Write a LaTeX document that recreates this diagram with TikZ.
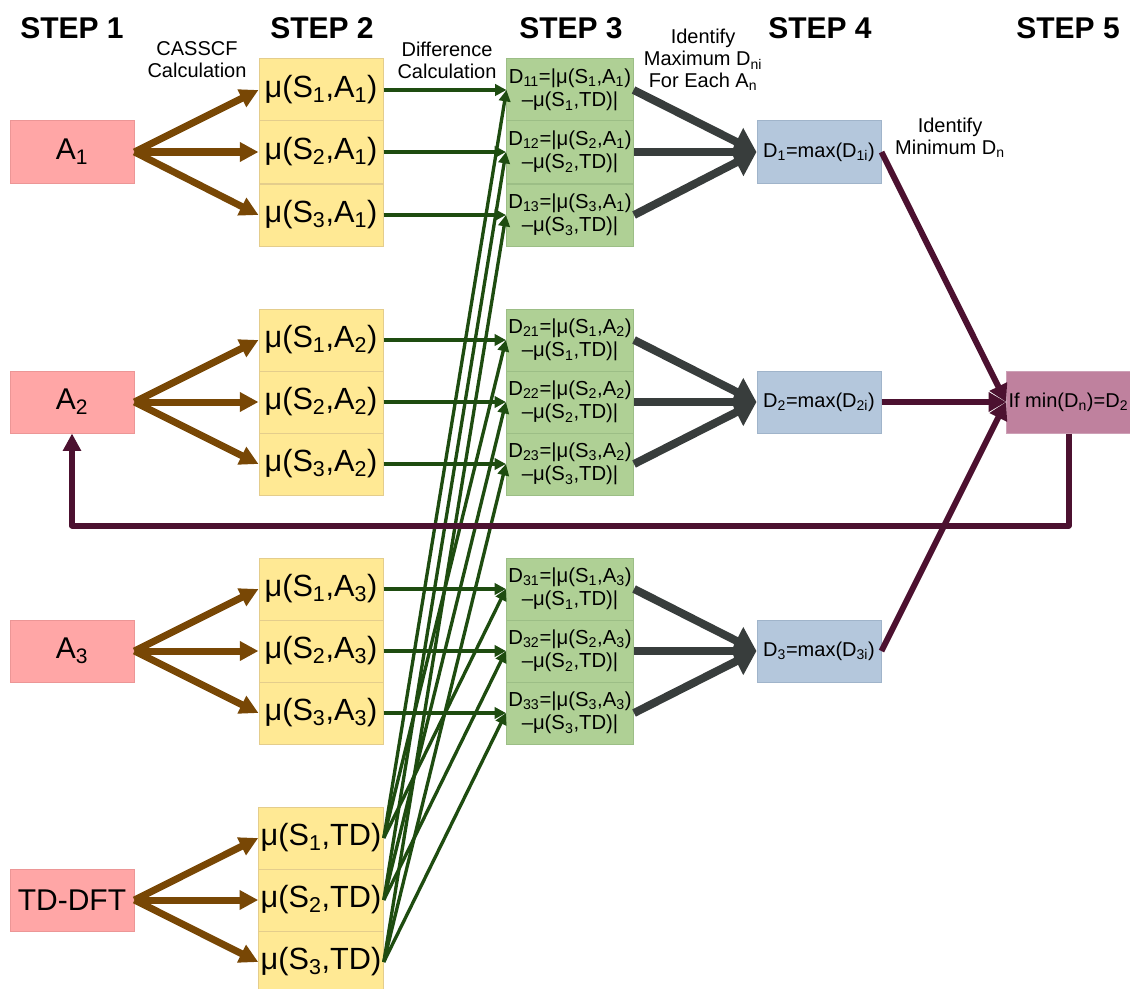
\documentclass[tikz,border=0pt]{standalone}
\usepackage{fontspec}
\setmainfont{Liberation Sans}
\usetikzlibrary{arrows.meta}
\definecolor{redfill}{RGB}{255,166,166}
\definecolor{redline}{RGB}{236,150,150}
\definecolor{yelfill}{RGB}{255,233,148}
\definecolor{yelline}{RGB}{228,205,140}
\definecolor{grnfill}{RGB}{175,208,149}
\definecolor{grnline}{RGB}{156,190,134}
\definecolor{blufill}{RGB}{180,199,220}
\definecolor{bluline}{RGB}{160,180,202}
\definecolor{magfill}{RGB}{191,129,158}
\definecolor{magline}{RGB}{205,160,182}
\definecolor{brownarr}{RGB}{120,71,5}
\definecolor{greenarr}{RGB}{30,76,16}
\definecolor{grayarr}{RGB}{56,61,60}
\definecolor{maroonarr}{RGB}{76,17,48}
\begin{document}
\begin{tikzpicture}[x=0.75pt, y=-0.75pt,
  cell/.style={line width=0.75pt, inner sep=1.5pt, minimum width=93pt, minimum height=46.5pt},
  abox/.style={cell, draw=redline, fill=redfill, font=\fontsize{22.5}{27}\selectfont},
  mbox/.style={cell, draw=yelline, fill=yelfill, font=\fontsize{23}{27}\selectfont},
  dbox/.style={cell, draw=grnline, fill=grnfill, font=\fontsize{15.2}{17.5}\selectfont, align=center},
  xbox/.style={cell, draw=bluline, fill=blufill, font=\fontsize{15}{17}\selectfont},
  rbox/.style={cell, draw=magline, fill=magfill, font=\fontsize{15}{17}\selectfont},
  head/.style={font=\fontsize{22.5}{27}\selectfont\bfseries},
  note/.style={font=\fontsize{15}{16.5}\selectfont, align=center},
  calc/.style={draw=brownarr, line width=5.25pt, -{Triangle[length=14pt,width=14pt]}},
  diff/.style={draw=greenarr, line width=2.5pt, -{Triangle[length=8.5pt,width=8.5pt]}},
  maxi/.style={draw=grayarr, line width=6pt, -{Triangle[length=17pt,width=22pt]}},
  mini/.style={draw=maroonarr, line width=4.5pt, -{Triangle[length=13pt,width=14pt]}},
  back/.style={draw=maroonarr, line width=4.5pt, line join=round, -{Triangle[length=13pt,width=13pt]}}]
\useasboundingbox (0,0) rectangle (1130,988);
\node[head] (h1) at (72,28) {STEP 1};
\node[head] (h2) at (322,28) {STEP 2};
\node[head] (h3) at (571,28) {STEP 3};
\node[head] (h4) at (820,28) {STEP 4};
\node[head] (h5) at (1068,28) {STEP 5};
\node[note] (l1) at (197,60) {CASSCF\\Calculation};
\node[note] (l2) at (447,60) {Difference\\Calculation};
\node[note] (l3) at (703,60) {Identify\\Maximum D\textsubscript{ni}\\For Each A\textsubscript{n}};
\node[note] (l4) at (950,138) {Identify\\Minimum D\textsubscript{n}};
\node[abox] (a1) at (72,152) {A\textsubscript{1}};
\node[abox] (a2) at (72,402) {A\textsubscript{2}};
\node[abox] (a3) at (72,651) {A\textsubscript{3}};
\node[abox] (td) at (72,900) {TD-DFT};
\node[mbox] (m11) at (321,90) {μ(S\textsubscript{1},A\textsubscript{1})};
\node[mbox] (m12) at (321,152) {μ(S\textsubscript{2},A\textsubscript{1})};
\node[mbox] (m13) at (321,215) {μ(S\textsubscript{3},A\textsubscript{1})};
\node[mbox] (m21) at (321,340) {μ(S\textsubscript{1},A\textsubscript{2})};
\node[mbox] (m22) at (321,402) {μ(S\textsubscript{2},A\textsubscript{2})};
\node[mbox] (m23) at (321,464) {μ(S\textsubscript{3},A\textsubscript{2})};
\node[mbox] (m31) at (321,589) {μ(S\textsubscript{1},A\textsubscript{3})};
\node[mbox] (m32) at (321,651) {μ(S\textsubscript{2},A\textsubscript{3})};
\node[mbox] (m33) at (321,713) {μ(S\textsubscript{3},A\textsubscript{3})};
\node[mbox] (mt1) at (321,838) {μ(S\textsubscript{1},TD)};
\node[mbox] (mt2) at (321,900) {μ(S\textsubscript{2},TD)};
\node[mbox] (mt3) at (321,962) {μ(S\textsubscript{3},TD)};
\node[dbox] (d11) at (570,90) {D\textsubscript{11}=|μ(S\textsubscript{1},A\textsubscript{1})\\–μ(S\textsubscript{1},TD)|};
\node[dbox] (d12) at (570,152) {D\textsubscript{12}=|μ(S\textsubscript{2},A\textsubscript{1})\\–μ(S\textsubscript{2},TD)|};
\node[dbox] (d13) at (570,215) {D\textsubscript{13}=|μ(S\textsubscript{3},A\textsubscript{1})\\–μ(S\textsubscript{3},TD)|};
\node[dbox] (d21) at (570,340) {D\textsubscript{21}=|μ(S\textsubscript{1},A\textsubscript{2})\\–μ(S\textsubscript{1},TD)|};
\node[dbox] (d22) at (570,402) {D\textsubscript{22}=|μ(S\textsubscript{2},A\textsubscript{2})\\–μ(S\textsubscript{2},TD)|};
\node[dbox] (d23) at (570,464) {D\textsubscript{23}=|μ(S\textsubscript{3},A\textsubscript{2})\\–μ(S\textsubscript{3},TD)|};
\node[dbox] (d31) at (570,589) {D\textsubscript{31}=|μ(S\textsubscript{1},A\textsubscript{3})\\–μ(S\textsubscript{1},TD)|};
\node[dbox] (d32) at (570,651) {D\textsubscript{32}=|μ(S\textsubscript{2},A\textsubscript{3})\\–μ(S\textsubscript{2},TD)|};
\node[dbox] (d33) at (570,713) {D\textsubscript{33}=|μ(S\textsubscript{3},A\textsubscript{3})\\–μ(S\textsubscript{3},TD)|};
\node[xbox] (x1) at (819,152) {D\textsubscript{1}=max(D\textsubscript{1i})};
\node[xbox] (x2) at (819,402) {D\textsubscript{2}=max(D\textsubscript{2i})};
\node[xbox] (x3) at (819,651) {D\textsubscript{3}=max(D\textsubscript{3i})};
\node[rbox, anchor=west] (res) at (1006,402) {\makebox[90pt][l]{If min(D\textsubscript{n})=D\textsubscript{2}}};
\draw[calc] (a1.east) -- (m11.west);
\draw[calc] (a1.east) -- (m12.west);
\draw[calc] (a1.east) -- (m13.west);
\draw[calc] (a2.east) -- (m21.west);
\draw[calc] (a2.east) -- (m22.west);
\draw[calc] (a2.east) -- (m23.west);
\draw[calc] (a3.east) -- (m31.west);
\draw[calc] (a3.east) -- (m32.west);
\draw[calc] (a3.east) -- (m33.west);
\draw[calc] (td.east) -- (mt1.west);
\draw[calc] (td.east) -- (mt2.west);
\draw[calc] (td.east) -- (mt3.west);
\draw[diff] (m11.east) -- (d11.west);
\draw[diff] (m12.east) -- (d12.west);
\draw[diff] (m13.east) -- (d13.west);
\draw[diff] (m21.east) -- (d21.west);
\draw[diff] (m22.east) -- (d22.west);
\draw[diff] (m23.east) -- (d23.west);
\draw[diff] (m31.east) -- (d31.west);
\draw[diff] (m32.east) -- (d32.west);
\draw[diff] (m33.east) -- (d33.west);
\draw[diff] (mt1.east) -- (d11.west);
\draw[diff] (mt1.east) -- (d21.west);
\draw[diff] (mt1.east) -- (d31.west);
\draw[diff] (mt2.east) -- (d12.west);
\draw[diff] (mt2.east) -- (d22.west);
\draw[diff] (mt2.east) -- (d32.west);
\draw[diff] (mt3.east) -- (d13.west);
\draw[diff] (mt3.east) -- (d23.west);
\draw[diff] (mt3.east) -- (d33.west);
\draw[maxi] (d11.east) -- (x1.west);
\draw[maxi] (d12.east) -- (x1.west);
\draw[maxi] (d13.east) -- (x1.west);
\draw[maxi] (d21.east) -- (x2.west);
\draw[maxi] (d22.east) -- (x2.west);
\draw[maxi] (d23.east) -- (x2.west);
\draw[maxi] (d31.east) -- (x3.west);
\draw[maxi] (d32.east) -- (x3.west);
\draw[maxi] (d33.east) -- (x3.west);
\draw[mini] (x1.east) -- (res.west);
\draw[mini] (x2.east) -- (res.west);
\draw[mini] (x3.east) -- (res.west);
\draw[back] (res.south) -- ++(0,92) -| (a2.south);
\end{tikzpicture}
\end{document}
